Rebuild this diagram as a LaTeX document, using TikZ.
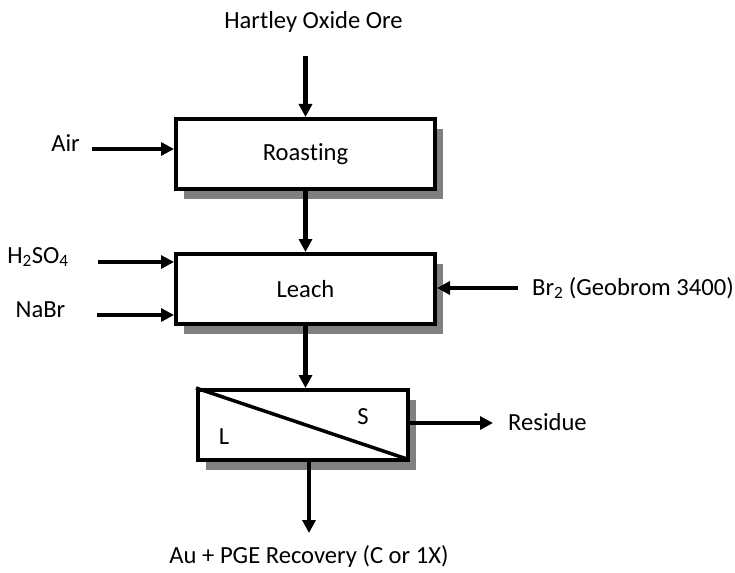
\documentclass[tikz,border=0pt]{standalone}
\usepackage{fontspec}
\setmainfont{Carlito}[Ligatures=NoCommon]
\usetikzlibrary{arrows.meta,shadows}
\definecolor{shadowgray}{RGB}{128,128,128}
\begin{document}
\begin{tikzpicture}[x=1pt,y=-1pt,
  font=\fontsize{24.6}{28}\selectfont,
  procbox/.style={draw=black, line width=4pt, fill=white, minimum width=259pt, minimum height=70pt, inner sep=0pt,
    drop shadow={shadow xshift=8pt, shadow yshift=-10pt, fill=shadowgray, opacity=1}},
  flow/.style={line width=4.5pt, -{Triangle[length=13pt,width=13pt]}},
  lbl/.style={inner sep=0pt, anchor=base}
]
\useasboundingbox (0,0) rectangle (735,572);
% boxes
\node[procbox] (roast) at (305.5,154) {Roasting};
\node[procbox] (leach) at (305.5,289) {Leach};
\node[procbox, minimum width=210pt] (sep) at (303,425) {};
\draw[line width=3.5pt] (sep.north west) -- ([xshift=-3pt,yshift=3pt]sep.south east);
\node[inner sep=0pt] (S) at (363,417) {S};
\node[inner sep=0pt] (L) at (224,437) {L};
% labels
\node[lbl] (ore) at (313.5,29) {Hartley Oxide Ore};
\node[lbl] (air) at (65.5,152) {Air};
\node[lbl] (h2so4) at (38,263) {H\textsubscript{2}SO\textsubscript{4}};
\node[lbl] (nabr) at (40.5,317) {NaBr};
\node[lbl, anchor=base west] (br2) at (532,295) {Br\textsubscript{2} (Geobrom 3400)};
\node[lbl, anchor=base west] (res) at (508,430) {Residue};
\node[lbl] (rec) at (309,563) {Au + PGE Recovery (C or 1X)};
% coordinates for free ends
\coordinate (oreS) at (305.5,56);
\coordinate (airS) at (92,149);
\coordinate (h2S) at (98,262);
\coordinate (naS) at (97,315);
\coordinate (brS) at (518,288);
\coordinate (resE) at (493,423);
\coordinate (recE) at (309,533);
% connectors
\draw[flow] (oreS) -- (roast.north);
\draw[flow] (airS) -- (airS -| roast.west);
\draw[flow] (roast.south) -- (leach.north);
\draw[flow] (h2S) -- (h2S -| leach.west);
\draw[flow] (naS) -- (naS -| leach.west);
\draw[flow] (brS) -- (brS -| leach.east);
\draw[flow] (leach.south) -- (leach.south |- sep.north);
\draw[flow] (resE -| sep.east) -- (resE);
\draw[flow] (recE |- sep.south) -- (recE);
\end{tikzpicture}
\end{document}
